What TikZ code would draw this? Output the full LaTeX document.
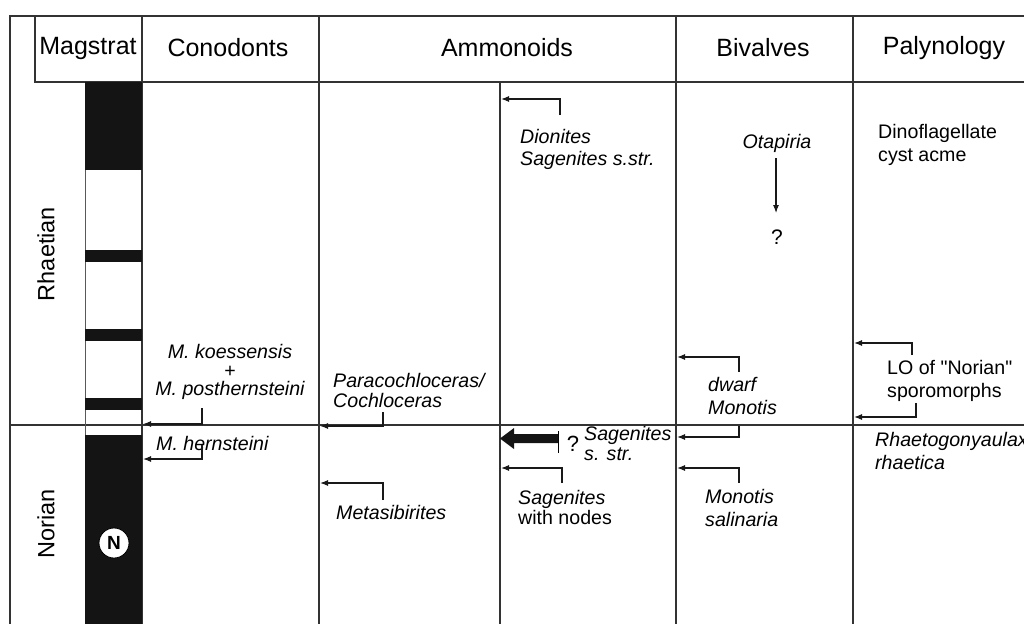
\documentclass[tikz,border=0pt]{standalone}
\usepackage{fontspec}
\setmainfont{Liberation Sans}[Ligatures=TeXOff]
\usetikzlibrary{arrows.meta,calc}
\begin{document}
\begin{tikzpicture}[x=1pt,y=-1pt,
  grid/.style={line width=1.3pt,draw=black!80},
  arr/.style={line width=1.1pt,draw=black!90,-{Latex[length=8pt,width=6pt]}},
  hdr/.style={font=\fontsize{25}{28}\selectfont,inner sep=0pt},
  lbl/.style={font=\fontsize{19.6}{22}\selectfont,inner sep=0pt,anchor=west,align=left},
  ilbl/.style={lbl,font=\fontsize{19.6}{22}\selectfont\itshape},
  magblack/.style={fill=black!92,draw=none}]
\useasboundingbox (0,0) rectangle (1024,624);
% frame and grid
\draw[grid] (1024,16) -- (10,16) -- (10,624);
\draw[grid] (35,16) -- (35,82) -- (142,82);
\draw[grid] (142,82) -- (1024,82);
\foreach \x in {142,319,676,853} \draw[grid] (\x,16) -- (\x,624);
\draw[grid] (500,82) -- (500,624);
\draw[grid] (10,425) -- (1024,425);
% magstrat column
\draw[line width=0.8pt,draw=black!65] (85,82) -- (85,624);
\fill[magblack] (85,82) rectangle (142,170);
\fill[magblack] (85,250) rectangle (142,262);
\fill[magblack] (85,329) rectangle (142,341);
\fill[magblack] (85,398) rectangle (142,410);
\fill[magblack] (85,435) rectangle (142,624);
\node[circle,fill=white,draw=black,line width=0.8pt,inner sep=0pt,minimum size=30pt,
  font=\fontsize{19}{19}\selectfont\bfseries] (npol) at (114,543) {N};
% headers
\node[hdr] (hmag) at (88,48) {Magstrat};
\node[hdr] (hcon) at (228,48) {Conodonts};
\node[hdr] (hamm) at (507,48) {Ammonoids};
\node[hdr] (hbiv) at (763,48) {Bivalves};
\node[hdr] (hpal) at (944,48) {Palynology};
% stages
\node[hdr,rotate=90,font=\fontsize{23.5}{26}\selectfont] (rhae) at (46,254) {Rhaetian};
\node[hdr,rotate=90,font=\fontsize{23.5}{26}\selectfont] (nori) at (46,524) {Norian};
% conodonts
\node[lbl,anchor=center,align=center,font=\fontsize{19.6}{18.5}\selectfont\itshape] (koes) at (230,372)
  {M. koessensis\\\upshape +\\M. posthernsteini};
\coordinate (koesA) at (202,408); \coordinate (koesB) at (143,424);
\draw[arr] (koesA) |- (koesB);
\node[ilbl] (hern) at (156,443) {M. hernsteini};
\coordinate (hernA) at (202,445); \coordinate (hernB) at (143,459);
\draw[arr] (hernA) |- (hernB);
% ammonoids
\node[ilbl,font=\fontsize{19.6}{20}\selectfont\itshape] (para) at (333,390) {Paracochloceras/\\Cochloceras};
\coordinate (paraA) at (383,412); \coordinate (paraB) at (320,426);
\draw[arr] (paraA) |- (paraB);
\node[ilbl] (meta) at (336,512) {Metasibirites};
\coordinate (metaA) at (383,500); \coordinate (metaB) at (320,483);
\draw[arr] (metaA) |- (metaB);
\node[ilbl] (dion) at (520,149) {Dionites\\Sagenites s.str.};
\coordinate (dionA) at (560,115); \coordinate (dionB) at (501,99);
\draw[arr] (dionA) |- (dionB);
\node[ilbl,font=\fontsize{19.6}{20}\selectfont\itshape] (sags) at (584,443) {Sagenites\\s. str.};
\node[lbl,anchor=center,font=\fontsize{22}{22}\selectfont] (qm1) at (573,444) {?};
\coordinate (bigA) at (558,438.5); \coordinate (bigB) at (500,438.5);
\fill[black!92] ($(bigA)+(0,-4.5)$) -- (514,434) -- (514,428) -- (bigB) -- (514,449) -- (514,443) -- ($(bigA)+(0,4.5)$) -- cycle;
\draw[line width=1pt] (558,431) -- (558,453);
\node[lbl,font=\fontsize{19.6}{20}\selectfont] (sagn) at (518,507) {\itshape Sagenites\\with nodes};
\coordinate (sagnA) at (562,483); \coordinate (sagnB) at (501,468);
\draw[arr] (sagnA) |- (sagnB);
% bivalves
\node[ilbl,anchor=center] (otap) at (777,143) {Otapiria};
\node[lbl,anchor=center,font=\fontsize{21}{21}\selectfont] (qm2) at (777,237) {?};
\coordinate (otapA) at (776,158); \coordinate (otapB) at (776,213);
\draw[arr] (otapA) -- (otapB);
\node[ilbl,font=\fontsize{19.6}{23}\selectfont\itshape] (dwar) at (708,396) {dwarf\\Monotis};
\coordinate (dwarA) at (739,372); \coordinate (dwarB) at (677,357);
\draw[arr] (dwarA) |- (dwarB);
\coordinate (bsagA) at (739,426); \coordinate (bsagB) at (677,437);
\draw[arr] (bsagA) |- (bsagB);
\node[ilbl,font=\fontsize{19.6}{23}\selectfont\itshape] (sali) at (705,508) {Monotis\\salinaria};
\coordinate (saliA) at (739,483); \coordinate (saliB) at (677,468);
\draw[arr] (saliA) |- (saliB);
% palynology
\node[lbl,font=\fontsize{19.6}{23}\selectfont] (dino) at (878,145) {Dinoflagellate\\cyst acme};
\node[lbl,font=\fontsize{19.6}{23}\selectfont] (lonr) at (887,381) {LO of "Norian"\\sporomorphs};
\coordinate (lo1A) at (912,355); \coordinate (lo1B) at (854,343);
\draw[arr] (lo1A) |- (lo1B);
\coordinate (lo2A) at (916,403); \coordinate (lo2B) at (854,417);
\draw[arr] (lo2A) |- (lo2B);
\node[ilbl,font=\fontsize{19.6}{23}\selectfont\itshape] (rhtg) at (875,451) {Rhaetogonyaulax\\rhaetica};
\end{tikzpicture}
\end{document}
